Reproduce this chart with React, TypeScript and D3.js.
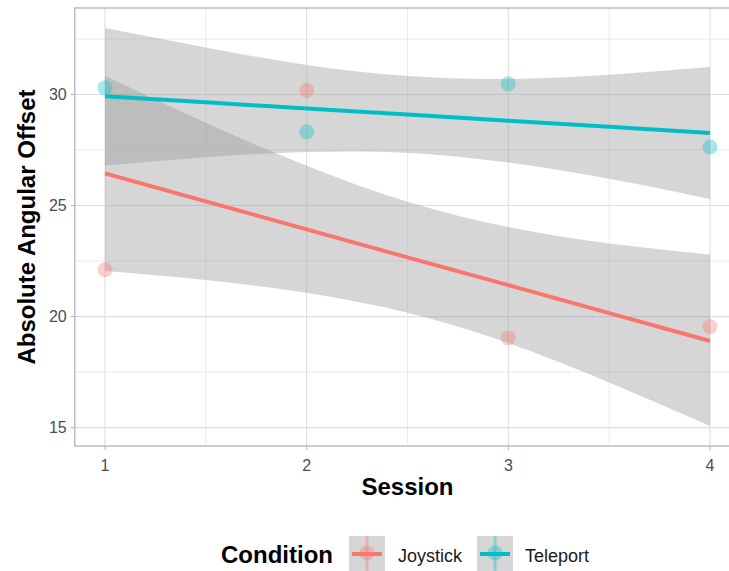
import React from "react";
import * as d3 from "d3";

// Per-session means
const sessions = [1, 2, 3, 4];
const joystickMeans = [22.11, 30.18, 19.04, 19.55];
const teleportMeans = [30.3, 28.32, 30.48, 27.64];

// Linear fit with 95% confidence band, evaluated along the session axis
const fitSessions = [1, 1.5, 2, 2.5, 3, 3.5, 4];
const joystickFit = [26.45, 25.19, 23.93, 22.67, 21.42, 20.16, 18.9];
const joystickUpper = [30.85, 28.73, 26.79, 25.17, 24.03, 23.29, 22.8];
const joystickLower = [22.05, 21.65, 21.07, 20.17, 18.81, 17.03, 15.07];
const teleportFit = [29.92, 29.65, 29.37, 29.1, 28.82, 28.55, 28.27];
const teleportUpper = [33.0, 32.12, 31.33, 30.83, 30.7, 30.89, 31.24];
const teleportLower = [26.8, 27.18, 27.41, 27.37, 26.94, 26.21, 25.3];

const xTicks = [1, 2, 3, 4];
const xMinor = [1.5, 2.5, 3.5];
const yTicks = [15, 20, 25, 30];
const yMinor = [17.5, 22.5, 27.5, 32.5];

const conditions = ["Joystick", "Teleport"];
const colors = ["#F8766D", "#00BFC4"];

const W = 729;
const H = 571;
const panel = { left: 74.75, right: 740.25, top: 8, bottom: 446 };
const FONT = "'Liberation Sans', Arial, Helvetica, sans-serif";

function expand(lo: number, hi: number) {
  const pad = (hi - lo) * 0.05;
  return [lo - pad, hi + pad];
}

export default function App() {
  const x = d3
    .scaleLinear()
    .domain(expand(d3.min(sessions)!, d3.max(sessions)!))
    .range([panel.left, panel.right]);
  const allY = [
    ...joystickUpper,
    ...joystickLower,
    ...teleportUpper,
    ...teleportLower,
    ...joystickMeans,
    ...teleportMeans,
  ];
  const y = d3
    .scaleLinear()
    .domain(expand(d3.min(allY)!, d3.max(allY)!))
    .range([panel.bottom, panel.top]);

  const groups = [
    { name: conditions[0], color: colors[0], means: joystickMeans, fit: joystickFit, up: joystickUpper, lo: joystickLower },
    { name: conditions[1], color: colors[1], means: teleportMeans, fit: teleportFit, up: teleportUpper, lo: teleportLower },
  ];

  const line = d3
    .line<number>()
    .x((_, i) => x(fitSessions[i]))
    .y((d) => y(d));

  const gridColor = "#dedede";
  const borderColor = "#b3b3b3";

  const legendY = 553;
  const keys = [
    { x: 349, labelX: 398 },
    { x: 477, labelX: 525 },
  ];

  return (
    <svg
      width={W}
      height={H}
      style={{ position: "absolute", left: 0, top: 0, background: "#fff" }}
      fontFamily={FONT}
    >
      <defs>
        <clipPath id="panel-clip">
          <rect x={panel.left} y={panel.top} width={panel.right - panel.left} height={panel.bottom - panel.top} />
        </clipPath>
      </defs>

      {/* grid */}
      <g>
        {yMinor.map((v) => (
          <line key={"ym" + v} x1={panel.left} x2={panel.right} y1={y(v)} y2={y(v)} stroke={gridColor} strokeWidth={0.6} />
        ))}
        {xMinor.map((v) => (
          <line key={"xm" + v} x1={x(v)} x2={x(v)} y1={panel.top} y2={panel.bottom} stroke={gridColor} strokeWidth={0.6} />
        ))}
        {yTicks.map((v) => (
          <line key={"y" + v} x1={panel.left} x2={panel.right} y1={y(v)} y2={y(v)} stroke={gridColor} strokeWidth={1.1} />
        ))}
        {xTicks.map((v) => (
          <line key={"x" + v} x1={x(v)} x2={x(v)} y1={panel.top} y2={panel.bottom} stroke={gridColor} strokeWidth={1.1} />
        ))}
      </g>

      {/* confidence bands and fitted lines */}
      <g clipPath="url(#panel-clip)">
        {groups.map((g) => {
          const a = d3
            .area<number>()
            .x((_, i) => x(fitSessions[i]))
            .y0((_, i) => y(g.lo[i]))
            .y1((d) => y(d))
            .curve(d3.curveNatural);
          return (
            <g key={g.name}>
              <path d={a(g.up) || ""} fill="#999999" fillOpacity={0.4} />
              <path d={line(g.fit) || ""} fill="none" stroke={g.color} strokeWidth={4} />
            </g>
          );
        })}
      </g>

      {/* session means */}
      <g>
        {groups.map((g) =>
          g.means.map((m, i) => (
            <circle key={g.name + i} cx={x(sessions[i])} cy={y(m)} r={7.5} fill={g.color} fillOpacity={0.35} />
          ))
        )}
      </g>

      {/* panel border */}
      <rect
        x={panel.left}
        y={panel.top}
        width={panel.right - panel.left}
        height={panel.bottom - panel.top}
        fill="none"
        stroke={borderColor}
        strokeWidth={1.3}
      />

      {/* y axis */}
      <g>
        {yTicks.map((v) => (
          <g key={"yt" + v}>
            <line x1={panel.left - 4} x2={panel.left} y1={y(v)} y2={y(v)} stroke={borderColor} strokeWidth={1} />
            <text x={panel.left - 8} y={y(v)} dy="0.35em" textAnchor="end" fontSize={16} fill="#4d4d4d">
              {v}
            </text>
          </g>
        ))}
        <text
          transform={`translate(35,${(panel.top + panel.bottom) / 2}) rotate(-90)`}
          textAnchor="middle"
          fontSize={24}
          fontWeight="bold"
          fill="#000"
        >
          Absolute Angular Offset
        </text>
      </g>

      {/* x axis */}
      <g>
        {xTicks.map((v) => (
          <g key={"xt" + v}>
            <line x1={x(v)} x2={x(v)} y1={panel.bottom} y2={panel.bottom + 4} stroke={borderColor} strokeWidth={1} />
            <text x={x(v)} y={panel.bottom + 25} textAnchor="middle" fontSize={16} fill="#4d4d4d">
              {v}
            </text>
          </g>
        ))}
        <text x={(panel.left + panel.right) / 2} y={495} textAnchor="middle" fontSize={24} fontWeight="bold" fill="#000">
          Session
        </text>
      </g>

      {/* legend */}
      <g>
        <text x={221} y={563} fontSize={24} fontWeight="bold" fill="#000">
          Condition
        </text>
        {groups.map((g, i) => {
          const k = keys[i];
          const cx = k.x + 18;
          return (
            <g key={"lg" + g.name}>
              <rect x={k.x} y={536} width={36} height={35} fill="#999999" fillOpacity={0.4} />
              <line x1={cx} x2={cx} y1={536} y2={571} stroke={g.color} strokeOpacity={0.35} strokeWidth={3} />
              <circle cx={cx} cy={legendY} r={7.5} fill={g.color} fillOpacity={0.35} />
              <line x1={k.x + 3} x2={k.x + 33} y1={legendY + 1} y2={legendY + 1} stroke={g.color} strokeWidth={4} />
              <text x={k.labelX} y={562} fontSize={18} fill="#1a1a1a">
                {g.name}
              </text>
            </g>
          );
        })}
      </g>
    </svg>
  );
}
